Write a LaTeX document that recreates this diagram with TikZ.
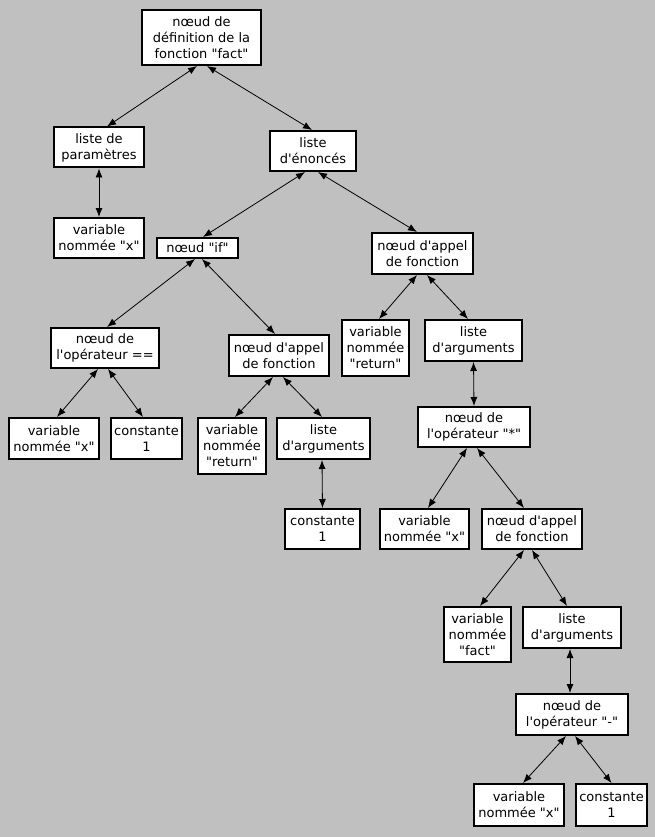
\documentclass[tikz,border=0pt]{standalone}
\usepackage{fontspec}
\newfontfamily\df{DejaVu Sans}
\usetikzlibrary{arrows.meta}
\definecolor{bgc}{HTML}{C0C0C0}
\begin{document}
\begin{tikzpicture}[x=1pt,y=-1pt,
  box/.style={draw=black,line width=2pt,fill=white,rectangle,inner sep=0pt,align=center,
    font=\df\fontsize{13}{16}\selectfont},
  link/.style={line width=0.8pt,{Latex[length=9pt,width=7pt]}-{Latex[length=9pt,width=7pt]}}]
\fill[bgc] (0,0) rectangle (655,837);
\useasboundingbox (0,0) rectangle (655,837);
% nodes
\node[box,minimum width=119,minimum height=55] (root) at (201.5,37.5) {nœud de\\définition de la\\fonction "fact"};
\node[box,minimum width=90,minimum height=40] (par) at (99,147.5) {liste de\\paramètres};
\node[box,minimum width=86,minimum height=40] (enon) at (313,151) {liste\\d'énoncés};
\node[box,minimum width=90,minimum height=40] (varxa) at (99,238) {variable\\nommée "x"};
\node[box,minimum width=81,minimum height=20] (if) at (197.5,248) {nœud "if"};
\node[box,minimum width=101,minimum height=41] (appR) at (422.5,253.5) {nœud d'appel\\de fonction};
\node[box,minimum width=108,minimum height=40] (opeq) at (105,348) {nœud de\\l'opérateur ==};
\node[box,minimum width=100,minimum height=41] (appM) at (279,355.5) {nœud d'appel\\de fonction};
\node[box,minimum width=67,minimum height=56] (retR) at (375.5,348) {variable\\nommée\\"return"};
\node[box,minimum width=97,minimum height=41] (argR) at (473.5,340.5) {liste\\d'arguments};
\node[box,minimum width=90,minimum height=41] (varxb) at (54,438.5) {variable\\nommée "x"};
\node[box,minimum width=71,minimum height=41] (ca) at (146.5,438.5) {constante\\1};
\node[box,minimum width=68,minimum height=56] (retM) at (232,446) {variable\\nommée\\"return"};
\node[box,minimum width=93,minimum height=41] (argM) at (323.5,438.5) {liste\\d'arguments};
\node[box,minimum width=112,minimum height=40] (opmul) at (474,427) {nœud de\\l'opérateur "*"};
\node[box,minimum width=75,minimum height=40] (cb) at (322.5,529) {constante\\1};
\node[box,minimum width=89,minimum height=40] (varxc) at (424.5,529) {variable\\nommée "x"};
\node[box,minimum width=100,minimum height=40] (appB) at (532,529) {nœud d'appel\\de fonction};
\node[box,minimum width=67,minimum height=55] (fact) at (477.5,634.5) {variable\\nommée\\"fact"};
\node[box,minimum width=98,minimum height=41] (argB) at (572,627.5) {liste\\d'arguments};
\node[box,minimum width=112,minimum height=41] (opmin) at (572,714.5) {nœud de\\l'opérateur "-"};
\node[box,minimum width=90,minimum height=42] (varxd) at (519,805) {variable\\nommée "x"};
\node[box,minimum width=71,minimum height=42] (cc) at (611.5,805) {constante\\1};
% links
\draw[link] ([xshift=-4.5]root.south) -- ([xshift=8]par.north);
\draw[link] ([xshift=5.5]root.south) -- ([xshift=-1]enon.north);
\draw[link] (par.south) -- (varxa.north);
\draw[link] ([xshift=-8]enon.south) -- ([xshift=5.5]if.north);
\draw[link] ([xshift=5]enon.south) -- ([xshift=-5.5]appR.north);
\draw[link] ([xshift=-2.5]if.south) -- ([xshift=2]opeq.north);
\draw[link] ([xshift=4.5]if.south) -- ([xshift=-4]appM.north);
\draw[link] ([xshift=-5.5]appR.south) -- ([xshift=3.5]retR.north);
\draw[link] ([xshift=4.5]appR.south) -- ([xshift=-5.5]argR.north);
\draw[link] (argR.south) -- (opmul.north);
\draw[link] ([xshift=-7]opeq.south) -- ([xshift=3]varxb.north);
\draw[link] ([xshift=3]opeq.south) -- ([xshift=-3.5]ca.north);
\draw[link] ([xshift=-6]appM.south) -- ([xshift=3]retM.north);
\draw[link] ([xshift=4]appM.south) -- ([xshift=-1.5]argM.north);
\draw[link] ([xshift=-1.5]argM.south) -- (cb.north);
\draw[link] ([xshift=-7]opmul.south) -- ([xshift=3.5]varxc.north);
\draw[link] ([xshift=3]opmul.south) -- ([xshift=-8]appB.north);
\draw[link] ([xshift=-8]appB.south) -- ([xshift=2.5]fact.north);
\draw[link] (appB.south) -- ([xshift=-5]argB.north);
\draw[link] ([xshift=-2]argB.south) -- ([xshift=-2]opmin.north);
\draw[link] ([xshift=-6]opmin.south) -- ([xshift=4]varxd.north);
\draw[link] ([xshift=3]opmin.south) -- (cc.north);
\end{tikzpicture}
\end{document}
